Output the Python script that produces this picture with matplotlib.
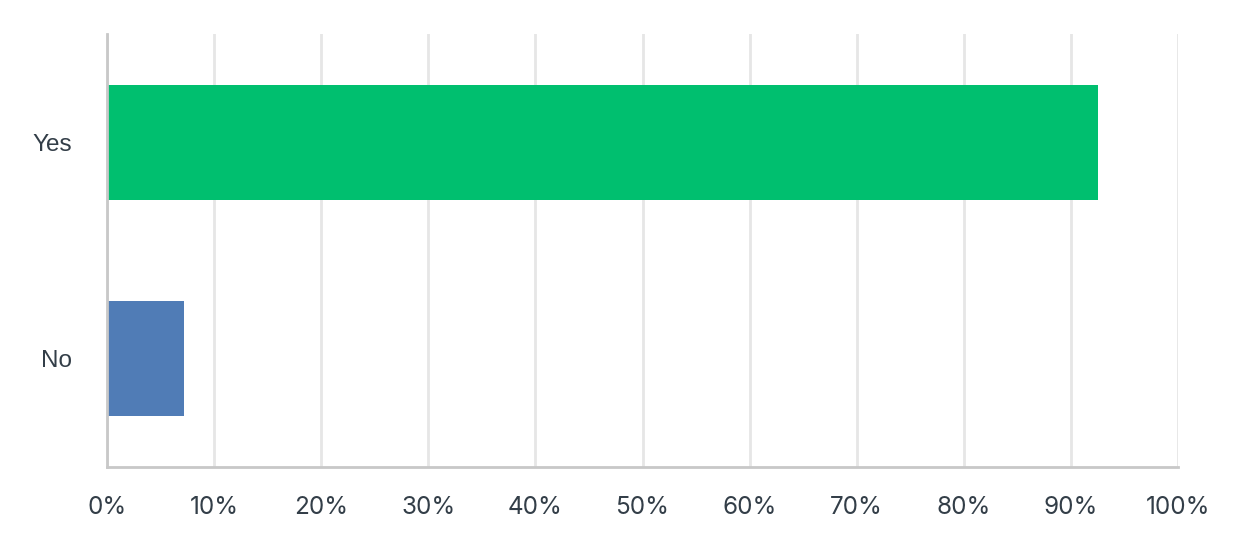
import matplotlib.pyplot as plt
from matplotlib.ticker import PercentFormatter

plt.rcParams['font.family'] = ['Inter', 'DejaVu Sans']

answers = ["Yes", "No"]
shares = [92.5, 7.2]
bar_colors = ["#00BF6F", "#507CB6"]
x_ticks = [0, 10, 20, 30, 40, 50, 60, 70, 80, 90, 100]

fig = plt.figure(figsize=(12.4, 5.55), dpi=100)
ax = fig.add_axes([0.0863, 0.1586, 0.8637, 0.7801])

ypos = list(range(len(answers)))
ax.barh(ypos, shares, height=0.53, color=bar_colors, zorder=3)

ax.set_xlim(0, 100)
ax.set_ylim(-0.5, 1.5)
ax.invert_yaxis()
ax.set_yticks(ypos)
ax.set_yticklabels(answers, family=['Liberation Sans', 'DejaVu Sans'])
ax.set_xticks(x_ticks)
ax.xaxis.set_major_formatter(PercentFormatter(decimals=0))

ax.grid(axis="x", color="#e6e6e6", lw=2, zorder=0)
ax.grid(axis="y", visible=False)
for side in ["top", "right"]:
    ax.spines[side].set_visible(False)
for side in ["left", "bottom"]:
    ax.spines[side].set_color("#c8c8c8")
    ax.spines[side].set_linewidth(2)
    ax.spines[side].set_zorder(4)

ax.tick_params(axis="both", length=0, labelcolor="#333e48")
ax.tick_params(axis="x", pad=21, labelsize=17.5)
ax.tick_params(axis="y", pad=25, labelsize=17.5)
for lbl in ax.get_yticklabels():
    lbl.set_va("center_baseline")

fig.savefig("out.png", dpi=100)
